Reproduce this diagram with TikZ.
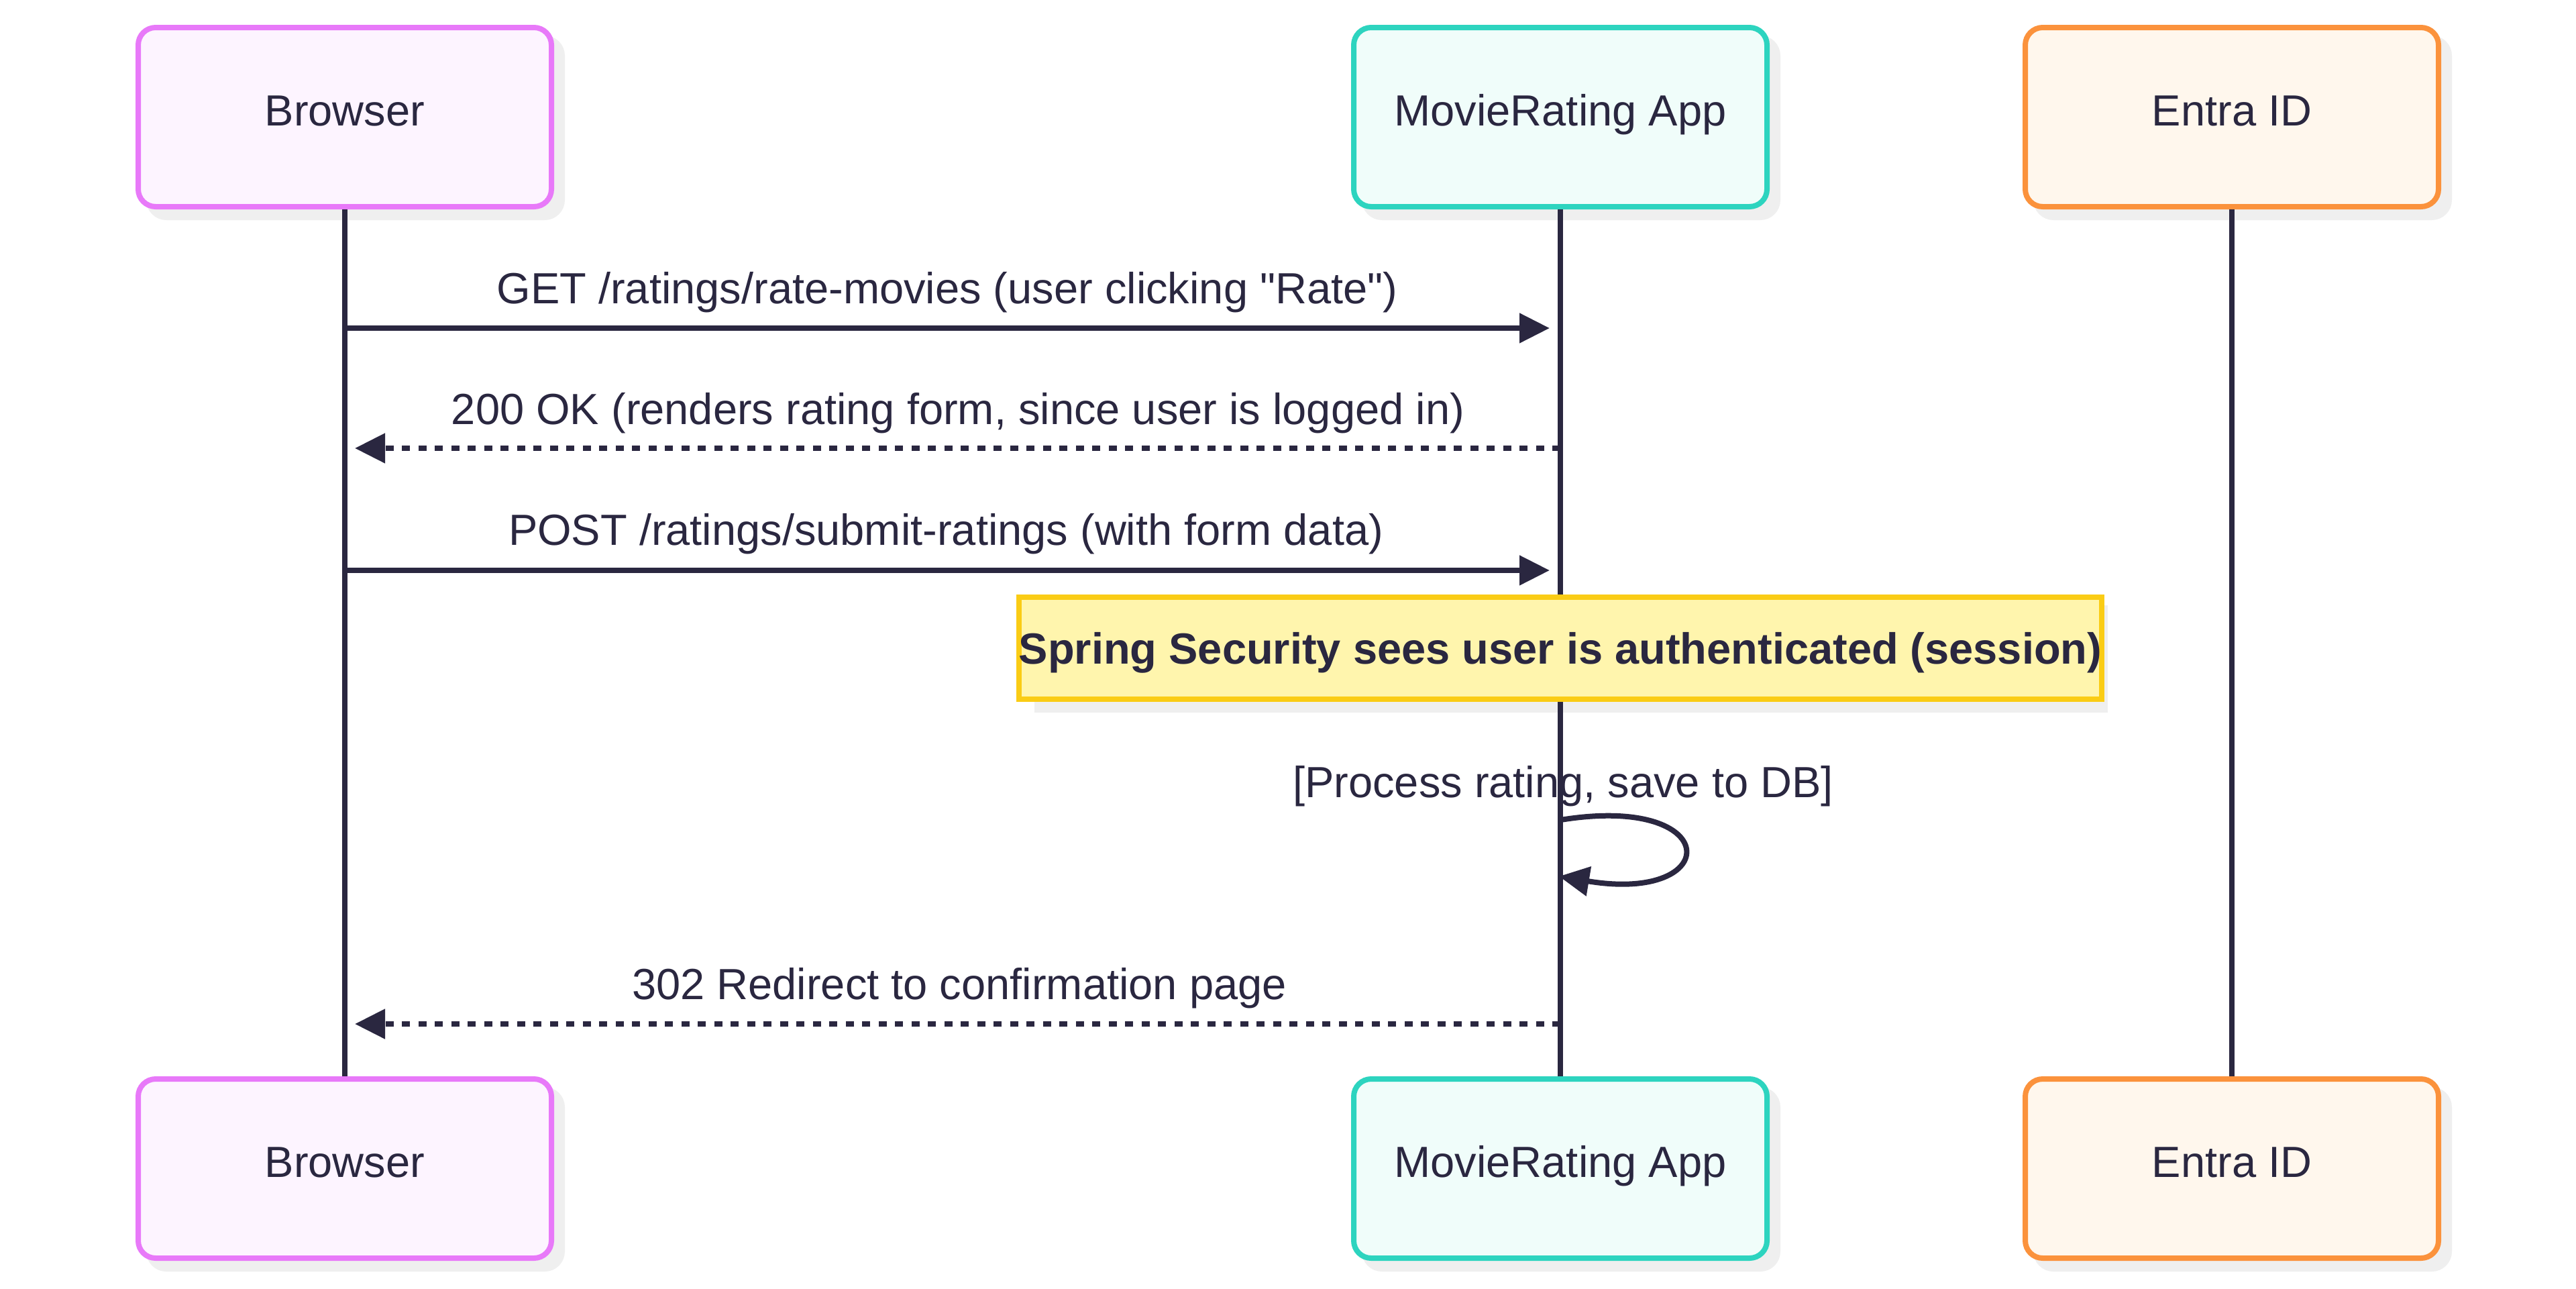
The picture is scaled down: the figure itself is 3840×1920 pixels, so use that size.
\documentclass[tikz,border=0pt]{standalone}
\usepackage{fontspec}
\setmainfont{Liberation Sans}
\usetikzlibrary{arrows.meta}
\definecolor{ink}{HTML}{2A2740}
\definecolor{brB}{HTML}{E879F9}
\definecolor{brF}{HTML}{FDF4FF}
\definecolor{apB}{HTML}{2DD4BF}
\definecolor{apF}{HTML}{F0FDFA}
\definecolor{enB}{HTML}{FB923C}
\definecolor{enF}{HTML}{FFF7ED}
\definecolor{noB}{HTML}{FACC15}
\definecolor{noF}{HTML}{FFF5AD}
\definecolor{shd}{HTML}{EFEFEF}
\begin{document}
\begin{tikzpicture}[x=1pt,y=-1pt,
  actor/.style={rectangle, rounded corners=26pt, line width=8pt,
    minimum width=616pt, minimum height=267pt, inner sep=0pt,
    text height=25pt, text depth=0pt,
    font=\fontsize{65}{78}\selectfont, text=ink},
  actshadow/.style={actor, draw=shd, fill=shd},
  notebox/.style={rectangle, line width=8pt, draw=noB, fill=noF,
    minimum width=1592pt, minimum height=152pt, inner sep=0pt,
    text height=46.5pt, text depth=0pt,
    font=\fontsize{65}{78}\selectfont\bfseries, text=ink},
  noteshadow/.style={notebox, draw=shd, fill=shd},
  lbl/.style={font=\fontsize{65}{78}\selectfont, text=ink, anchor=base, inner sep=0pt},
  life/.style={line width=8pt, draw=ink},
  msg/.style={line width=8pt, draw=ink, -{Triangle[length=45pt,width=43pt]}},
  reply/.style={msg, dash pattern=on 12pt off 12.5pt}
]
\fill[white] (0,0) rectangle (3840,1920);
\useasboundingbox (0,0) rectangle (3840,1920);

% shadows
\node[actshadow] (bts) at (530,190.5) {};
\node[actshadow] (ats) at (2342,190.5) {};
\node[actshadow] (ets) at (3343,190.5) {};
\node[actshadow] (bbs) at (530,1757.5) {};
\node[actshadow] (abs) at (2342,1757.5) {};
\node[actshadow] (ebs) at (3343,1757.5) {};
\node[noteshadow] (ns) at (2342,982) {};

% actors
\node[actor, draw=brB, fill=brF] (bt) at (514,174.5) {Browser};
\node[actor, draw=apB, fill=apF] (at) at (2326,174.5) {MovieRating App};
\node[actor, draw=enB, fill=enF] (et) at (3327,174.5) {Entra ID};
\node[actor, draw=brB, fill=brF] (bb) at (514,1741.5) {Browser};
\node[actor, draw=apB, fill=apF] (ab) at (2326,1741.5) {MovieRating App};
\node[actor, draw=enB, fill=enF] (eb) at (3327,1741.5) {Entra ID};

% lifelines
\draw[life] (bt.south) -- (bb.north);
\draw[life] (at.south) -- (ab.north);
\draw[life] (et.south) -- (eb.north);

% message 1
\coordinate (m1s) at (514,489);
\coordinate (m1e) at (2310,489);
\draw[msg] (m1s) -- (m1e);
\node[lbl] (m1l) at (1412,452) {GET /ratings/rate-movies (user clicking \textquotedbl Rate\textquotedbl)};

% message 2
\coordinate (m2s) at (2326,668);
\coordinate (m2e) at (529,668);
\draw[reply] (m2s) -- (m2e);
\node[lbl] (m2l) at (1428,632) {200 OK (renders rating form, since user is logged in)};

% message 3
\coordinate (m3s) at (514,850);
\coordinate (m3e) at (2310,850);
\draw[msg] (m3s) -- (m3e);
\node[lbl] (m3l) at (1410,812) {POST /ratings/submit-ratings (with form data)};

% note
\node[notebox] (note) at (2326,966) {Spring Security sees user is authenticated (session)};

% self message
\node[lbl] (m4l) at (2330,1188) {[Process rating, save to DB]};
\coordinate (s1) at (2326,1222);
\coordinate (c1) at (2570,1182);
\coordinate (c2) at (2570,1347);
\coordinate (s2) at (2324,1306);
\draw[msg] (s1) .. controls (c1) and (c2) .. (s2);

% message 5
\coordinate (m5s) at (2326,1526);
\coordinate (m5e) at (529,1526);
\draw[reply] (m5s) -- (m5e);
\node[lbl] (m5l) at (1430,1489) {302 Redirect to confirmation page};
\end{tikzpicture}
\end{document}
